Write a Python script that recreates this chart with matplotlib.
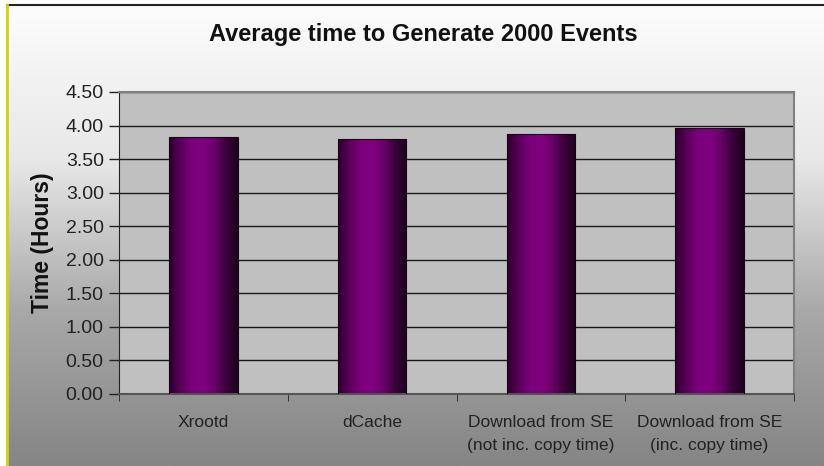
import numpy as np
import matplotlib
matplotlib.use("Agg")
import matplotlib.pyplot as plt

plt.rcParams['font.family'] = ['Liberation Sans', 'DejaVu Sans']

# data
categories = ["Xrootd", "dCache", "Download from SE\n(not inc. copy time)",
              "Download from SE\n(inc. copy time)"]
hours = [3.83, 3.80, 3.87, 3.96]
yticks = [0.0, 0.5, 1.0, 1.5, 2.0, 2.5, 3.0, 3.5, 4.0, 4.5]

W, H = 824, 466
fig = plt.figure(figsize=(W / 100, H / 100), dpi=100)

# background: white to grey gradient with the slide frame
bg = fig.add_axes([0, 0, 1, 1])
bg.set_xlim(0, W)
bg.set_ylim(H, 0)
bg.axis("off")
grad = np.linspace(0, 1, 256).reshape(-1, 1)
bg_cmap = matplotlib.colors.LinearSegmentedColormap.from_list(
    "bg", ["#fcfcfc", "#e8e8e8", "#a8a8a8", "#858585"])
bg.imshow(grad, cmap=bg_cmap, extent=[7, W, H, 5], aspect="auto", zorder=0)
bg.plot([7, W], [5, 5], color="#222222", lw=1.5, zorder=1)
bg.plot([7, 7], [5, H], color="#d4d400", lw=2, zorder=1)

fig.text(423 / W, 1 - 35 / H, "Average time to Generate 2000 Events",
         ha="center", va="center", fontsize=17, fontweight="bold", color="#111111")

ax = fig.add_axes([119 / W, (H - 394) / H, (794 - 119) / W, (394 - 92) / H])
ax.set_facecolor("#c0c0c0")
ax.set_xlim(-0.5, 3.5)
ax.set_ylim(0, 4.5)
ax.set_yticks(yticks)
ax.set_yticklabels(["%.2f" % v for v in yticks], fontsize=14, color="#222222")
ax.yaxis.grid(True, color="#1a1a1a", lw=1)
ax.set_axisbelow(True)
ax.tick_params(axis="y", direction="out", length=7, width=1, color="#222222", pad=4)

x = np.arange(len(categories))
ax.set_xticks(x)
ax.set_xticklabels(categories, fontsize=12.5, color="#222222", va="top", linespacing=1.7)
ax.set_xticks(np.arange(-0.5, len(categories)), minor=True)
ax.tick_params(axis="x", which="major", length=0, pad=15)
ax.tick_params(axis="x", which="minor", direction="out", length=5, color="#222222")

for side in ["top", "right"]:
    ax.spines[side].set_color("#808080")
    ax.spines[side].set_linewidth(1.5)
ax.spines["left"].set_color("#222222")
ax.spines["bottom"].set_color("#555555")
ax.spines["bottom"].set_linewidth(1.5)

ax.set_ylabel("Time (Hours)", fontsize=16.5, fontweight="bold", color="#111111", labelpad=8)

# bars with horizontal purple gradient
bar_cmap = matplotlib.colors.LinearSegmentedColormap.from_list(
    "bar", ["#280028", "#5a005a", "#7a007a", "#800080", "#6a006a", "#3a003a", "#200020"])
bars = ax.bar(x, hours, width=0.405, color="none", edgecolor="#1a001a", lw=0.8, zorder=3)
hgrad = np.linspace(0, 1, 256).reshape(1, -1)
for b in bars:
    x0, y0 = b.get_x(), b.get_y()
    im = ax.imshow(hgrad, cmap=bar_cmap, aspect="auto", zorder=2.5,
                   extent=[x0, x0 + b.get_width(), y0, y0 + b.get_height()])
    im.set_clip_path(b)
ax.set_xlim(-0.5, 3.5)
ax.set_ylim(0, 4.5)

fig.savefig("out.png", dpi=100)
